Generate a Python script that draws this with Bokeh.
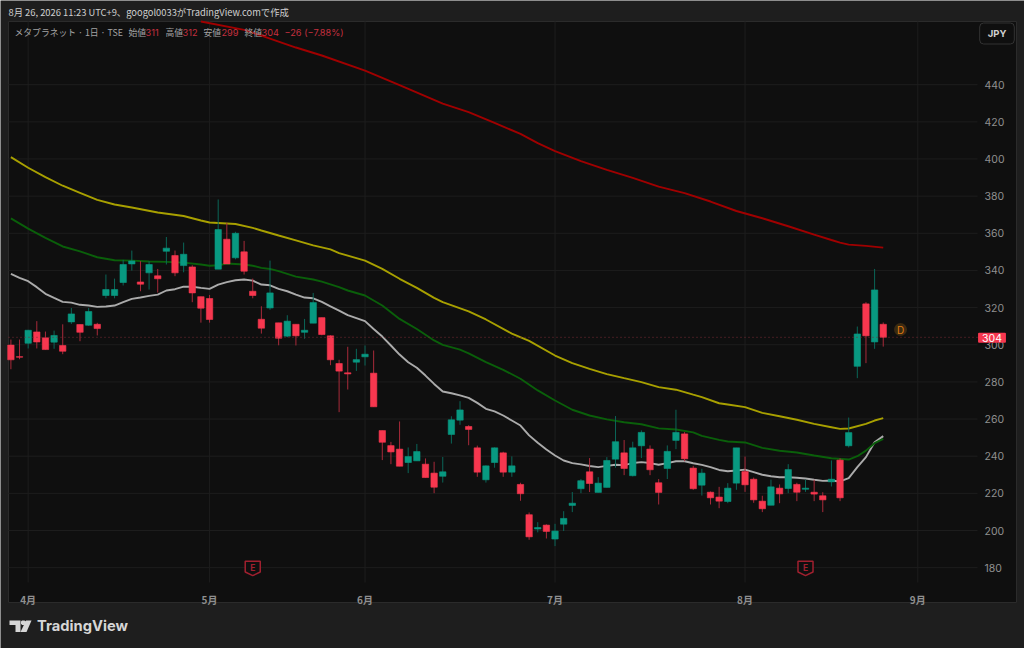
from bokeh.plotting import figure
from bokeh.embed import file_html
from bokeh.resources import INLINE
from bokeh.models import Range1d, FixedTicker, Label, PolyAnnotation, ColumnDataSource
from bokeh.core.properties import value

opens = [299.8,293.6,300.8,306.9,303.7,301.4,299.6,312.3,310.9,310.5,311,326.5,326.5,333.5,343.5,333.8,338.7,337.1,350.3,348,342.6,341.9,325.9,324.9,340.7,356.8,346.8,350,328.8,313.7,319.8,311.8,304.6,311,306.7,311.6,314.6,304.8,289.9,284.9,290.6,293.5,284.7,253.8,245.7,243.8,236.6,237.5,235.7,230.9,229.2,251.7,259.4,256,244.5,227.3,236.6,241.8,231.4,224.8,208.5,200.8,202.9,195.4,203.4,213.5,222.5,231.6,220.5,223.2,238.4,241.8,229.5,245.6,243.8,225.7,233.4,248.5,252,233.6,224.4,220.6,218,215.6,225.5,231.7,227.6,215.8,213.6,222.8,222.6,224.8,222.2,220.6,218.7,226.2,237.9,245.6,288.4,322,301.5,311]
highs = [302.8,302.8,308,312.7,307.1,307.6,311,319.8,310.9,319.8,311.8,337.8,335.6,345.7,350.7,345,345,340.8,358,350.7,355,342.8,325.9,326.8,378.2,365.6,360.8,355.9,335.6,320.7,345.3,311.8,315.9,311,313.9,327.9,314.6,305.1,291.9,298.9,297.8,299.6,296.9,253.8,247.7,258.7,244.7,246.6,238.8,237,239.6,261.5,269.6,256.7,245.7,235,244.7,242.4,239.9,225.7,209.7,204.5,203.3,203.6,210.4,220.7,227.7,239,228.7,239.5,261.6,248.7,247.8,253.9,245.8,227.7,245.8,265,253,234.8,233.2,221,223.5,225.5,244.5,239.8,228.5,218.7,227.4,224.8,235.7,225.7,227.4,227.3,220.6,237.7,238.9,260.8,309.8,322.9,340.8,312]
lows = [286.8,292.2,298,298,297.4,297.8,294.9,311.2,301.9,310.2,305,325,325,331.9,339.9,328.8,329.7,328.1,343.2,336.9,339,322.9,311.9,311.9,340.7,343.5,346,337.8,325,306,318.8,299.7,304,299.6,303.2,311.6,305.1,289,263.7,275.9,285.9,288.8,266.6,237.9,235.7,234.6,230.9,237.5,228.5,220.1,225.8,246.8,256.9,245.9,228.9,225.8,233.8,228.9,228.9,216,195,199,195.7,191.6,199.7,209.9,220.1,220.7,220.5,223.2,233.8,229.8,229.1,239,229.8,214,227.7,243.8,237.3,221.9,218.8,214,212,214.7,221.9,220.8,214.9,209.9,213.6,214.7,220.1,215.8,220.8,215.8,209.9,223.7,215.8,244.7,282,290.1,297.8,299]
closes = [291.9,293.3,307.8,301.5,297.4,305,296.5,316.6,306.7,317.9,308.7,329.7,329.7,343.2,345.1,332.6,343.2,335.5,352,338.7,348.7,327.9,319.7,313.6,362,343.5,360,339.6,326.5,308.9,327.9,303.5,312.7,304.8,307.8,322.7,305.5,291.9,285.8,284.3,292,294.9,266.6,247.5,242.3,234.6,239.8,242.5,228.5,223.3,231.6,259.6,264.9,254.4,231.4,234.8,244.5,231.4,234.8,219.8,196.6,201.6,199.5,199.7,206.5,214.7,226.8,225.3,225.5,237.7,247.8,233.4,244.5,252.8,232.7,220.5,242.6,252.8,238.6,222.5,230.9,217.6,215.8,222.8,244.5,224.6,216.5,211.7,223.5,219.7,232.8,220.6,222.8,219.6,216.5,227.6,217.6,252.7,305.8,304.8,329.5,304]

ma_white = [338.1,336,334.2,331,327.4,325.2,323.1,322.7,321.5,321.1,320.4,320.6,321.1,322.9,324.7,325.4,326.3,327,329.2,329.9,331.3,331.2,330.6,330.1,332.4,333.7,334.7,335.1,334.5,332.4,332,330.1,328.8,327,325.4,325,323.1,320.7,318.4,315.9,314.3,312.7,308.5,304.4,299.6,294.7,290.6,287.6,283.4,278.9,274.8,273.9,272.7,271.4,268.7,265.5,264.1,261.9,259.2,256.5,251.2,247.2,243.6,240.4,237.7,236.3,235.6,234.7,234.1,234.8,235.4,235.2,236.3,236.8,236.3,235.4,236.3,237.3,237.3,236.2,235.3,234.1,232.6,231.9,232.3,232.8,231.4,230,229.2,228.7,228.7,228.4,228,227.3,226.7,226.9,226.4,228.2,234.1,239.5,247.5,250.8]
ma_green_x = [0,2,4,6,8,10,12,14,16,18,20,22,23,24,25,26,27,28,29,30,31,33,35,36,38,39,41,43,45,47,49,50,52,53,55,57,59,61,63,65,67,69,71,73,75,77,79,80,82,83,85,87,89,91,93,95,97,98,99,100,101]
ma_green = [368,362.5,357.5,352.9,350.3,347.1,345.5,345.3,344.8,344.6,344.2,343.2,342.5,342.8,343.7,343.5,343.2,342.5,341.4,340.8,339.6,336.7,335.1,334,331,329.2,326.5,321.1,313.9,308.5,302.3,299.9,297.4,295.4,290.6,286.5,281.7,275.4,270,265,261.9,259.8,258.3,257.2,255,254.4,252.8,250.9,248.8,247.9,247.4,244.5,242.9,242,240.4,238.9,238.2,240,243,247,249.3]
ma_yellow_x = [0,2,4,6,8,10,12,14,17,20,22,23,26,28,29,31,33,35,37,38,41,43,45,47,49,50,53,55,58,60,63,65,67,69,71,73,75,77,79,80,82,83,85,87,89,91,93,95,96,97,99,100,101]
ma_yellow = [401,395.3,390.2,385.6,381.8,378,375.5,373.9,371.2,369.3,366.9,365.8,365,362.9,361.5,358.8,356.2,353.5,351.3,349.3,345.3,340.8,335.5,330.6,325.2,322.9,318,313.6,306,302.1,294.2,290.1,287,284.2,282,279.9,277.2,275.8,273.1,271.8,268.5,267.8,266.4,263.3,261.5,259.6,257.4,255.6,254.7,254.9,257.4,259.2,260.5]
ma_red_x = [22,27,29,33,36,41,45,50,53,56,59,61,63,66,69,72,75,78,81,84,87,90,93,95,96,97,99,101]
ma_red = [474,469.5,466.4,460,455.7,447.6,439.7,429.8,425.2,419.4,413.5,408.5,404.2,398.8,394.1,389.8,385.1,381.6,377.1,372,368.1,363.8,359.3,356.4,355,353.9,353.2,352.3]

price_ticks = [180,200,220,240,260,280,300,320,340,360,380,400,420,440]
month_ticks = [2,23,41,63,85,105]
month_labels = ["4月","5月","6月","7月","8月","9月"]
earnings_bars = [28,92]
last_price = 304
dividend_bar = 103
dividend_price = 308.2
earnings_price = 179.6

OUTER = "#1e1e1e"
PANE = "#0f0f0f"
GRID = "#1d1d1d"
UP = "#089981"
DOWN = "#f7374f"
UP_WICK = "#0b6658"
DOWN_WICK = "#a82a3a"
JP = "Noto Sans CJK JP"
LAT = "Inter"

W, H = 1024, 648
BAR0, BAR_PX = 10.4, 8.637     # page x of bar 0, px per bar
Y200, YEN_PX = 530.0, 1.8576   # page y of price 200, px per yen

def bx(px): return (px - BAR0) / BAR_PX
def py(y): return 200 + (Y200 - y) / YEN_PX

PL, PT, PR, PB = 8, 21, 1016, 602     # chart pane
FR, FB = 977, 582                     # plot area inside the pane

p = figure(width=W, height=H, output_backend="svg", toolbar_location=None,
           x_range=Range1d(bx(0), bx(W)), y_range=Range1d(py(H), py(0)),
           y_axis_location="right", min_border=0,
           background_fill_color=OUTER, border_fill_color=OUTER, outline_line_color=None)

p.quad(left=[bx(PL)], right=[bx(PR)], top=[py(PT)], bottom=[py(PB)], fill_color=PANE, line_color="#2b2b2b", line_width=1)

xa = p.xaxis[0]
xa.fixed_location = py(FB)
xa.ticker = FixedTicker(ticks=month_ticks)
xa.major_label_overrides = dict(zip(month_ticks, month_labels))
xa.major_tick_line_color = None; xa.minor_tick_line_color = None; xa.axis_line_color = None
xa.major_label_text_color = "#8f8f8f"; xa.major_label_text_font = JP
xa.major_label_text_font_size = "10px"; xa.major_label_text_font_style = "bold"
xa.major_label_standoff = 3

ya = p.yaxis[0]
ya.fixed_location = bx(FR)
ya.ticker = FixedTicker(ticks=price_ticks)
ya.major_tick_line_color = None; ya.minor_tick_line_color = None; ya.axis_line_color = None
ya.major_label_text_color = "#8f8f8f"; ya.major_label_text_font = LAT
ya.major_label_text_font_size = "10.5px"
ya.major_label_standoff = 1

p.grid.visible = False
p.segment(x0=month_ticks, y0=[py(FB)]*len(month_ticks), x1=month_ticks, y1=[py(PT)]*len(month_ticks), line_color=GRID, line_width=1)
p.segment(x0=[bx(PL)]*len(price_ticks), y0=price_ticks, x1=[bx(FR)]*len(price_ticks), y1=price_ticks, line_color=GRID, line_width=1)

bars = list(range(len(opens)))
p.line(bars, ma_white, line_color="#ababab", line_width=1.9)
p.line(ma_green_x, ma_green, line_color="#0a5f0a", line_width=1.9)
p.line(ma_yellow_x, ma_yellow, line_color="#a8a000", line_width=1.9)
p.line(ma_red_x, ma_red, line_color="#a00000", line_width=1.9)

is_up = [c >= o for o, c in zip(opens, closes)]
src = ColumnDataSource(dict(
    x=bars, high=highs, low=lows,
    top=[max(o, c) for o, c in zip(opens, closes)],
    bottom=[min(o, c) for o, c in zip(opens, closes)],
    fill=[UP if u else DOWN for u in is_up],
    wick=[UP_WICK if u else DOWN_WICK for u in is_up]))
p.segment("x", "high", "x", "low", source=src, line_color="wick", line_width=1)
p.vbar("x", 0.74, "top", "bottom", source=src, fill_color="fill", line_color="fill", line_width=0.6)

p.segment(x0=[bx(PL)], y0=[last_price], x1=[bx(FR)], y1=[last_price], line_color="#7c2b36", line_dash="1 3", line_width=1)

# dividend marker
p.scatter([dividend_bar], [dividend_price], size=13, marker="circle", fill_color="#3a2a12", line_color=None)
p.text([dividend_bar], [dividend_price], text=["D"], text_color="#e07c10", text_font=value(LAT),
       text_font_size="10px", text_align="center", text_baseline="middle")

# earnings markers: outline shields around each bar position
bw = 0.87; bh = 3.9
for b in earnings_bars:
    p.patch([b-bw, b+bw, b+bw, b, b-bw],
            [earnings_price+bh, earnings_price+bh, earnings_price-bh*0.5, earnings_price-bh, earnings_price-bh*0.5],
            fill_color=PANE, line_color="#a0202f", line_width=1.5)
    p.text([b], [earnings_price+0.2], text=["E"], text_color="#a0202f", text_font=value(LAT),
           text_font_size="8.5px", text_font_style="bold", text_align="center", text_baseline="middle")

def label(txt, x, y, color, size, font=JP, style="normal", align="left", **kw):
    p.add_layout(Label(x=x, y=H - y, x_units="screen", y_units="screen", text=txt, text_color=color,
                       text_font=font, text_font_size=size, text_font_style=style, text_align=align,
                       text_baseline="middle", **kw))

label("8月 26, 2026 11:23 UTC+9、googol0033がTradingView.comで作成", 8, 11.5, "#cfcfcf", "9.35px")
GREY = "#a3a3a3"; RED = "#c5303f"
label("メタプラネット · 1日 · TSE", 14, 31.5, GREY, "8.8px")
for t, x, c in [("始値",128,GREY),("311",145,RED),("高値",165,GREY),("312",182,RED),("安値",203,GREY),("299",221,RED),
                ("終値",244,GREY),("304",261,RED),("−26 (−7.88%)",284,RED)]:
    label(t, x, 31.5, c, "8.8px" if c == GREY else "9.2px", font=(JP if c == GREY else LAT))

label("JPY", 996.5, 33, "#cfcfcf", "9.5px", font=LAT, style="bold", align="center",
      background_fill_color=PANE, border_line_color="#333333", border_line_width=1,
      padding=(8, 5), border_radius=4)
label(str(last_price), 991.5, 337.3, "#ffffff", "10.5px", font=LAT, align="center",
      background_fill_color=DOWN, padding=(4, 1), border_radius=1)

# TradingView logo
def poly(xs, ys):
    p.add_layout(PolyAnnotation(xs=[bx(v) for v in xs], ys=[py(v) for v in ys], xs_units="data", ys_units="data",
                                fill_color="#d6d6d6", fill_alpha=1, line_color=None))
poly([9,20,20,15,15,9],[620,620,631.5,631.5,624.5,624.5])
poly([21.5,24,25.5,25.5,24,21.5,20.5,20.5],[620,620,621,623,624.5,624.5,623,621])
poly([25.5,31,26,20],[620,620,631.5,631.5])
label("TradingView", 36.5, 625.5, "#d6d6d6", "14.7px", font="Inter", style="bold")

open("out.html", "w").write(file_html(p, INLINE))
